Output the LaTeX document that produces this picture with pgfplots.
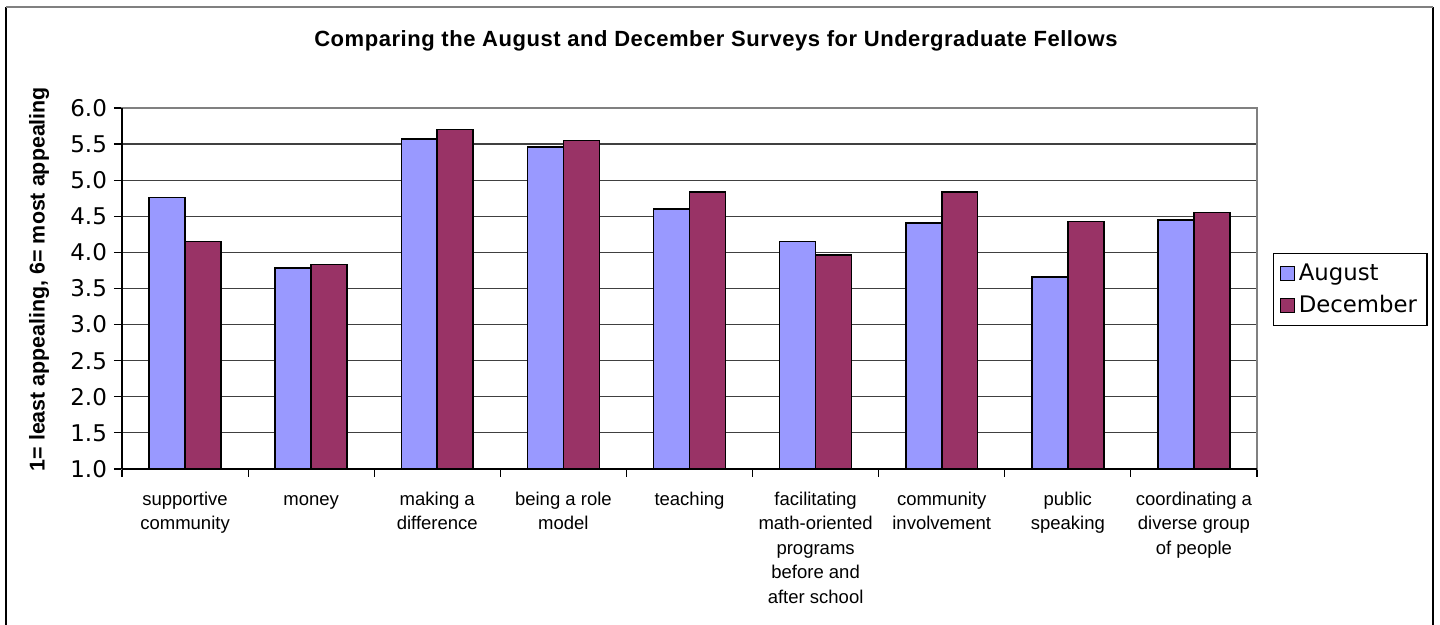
\documentclass[border=0pt]{standalone}
\usepackage{pgfplots}
\pgfplotsset{compat=1.18}
\usepackage{fontspec}
\setmainfont{Liberation Sans}
\newfontfamily\titlefont[LetterSpace=2.5]{Liberation Sans}
\newfontfamily\vfont{DejaVu Sans}
\definecolor{aug}{HTML}{9999FF}
\definecolor{dec}{HTML}{993366}
\begin{document}
\begin{tikzpicture}[x=0.5pt,y=0.5pt]
\useasboundingbox (0,0) rectangle (1440,625);
\fill[white] (0,0) rectangle (1440,625);
\draw[line width=1pt, black] (6,-10) -- (6,618);
\draw[line width=1pt, black] (1433,-10) -- (1433,618);
\draw[line width=1pt, gray] (6,618) -- (1433,618);
\begin{axis}[
  at={(61pt,78pt)}, anchor=south west,
  scale only axis, width=567.5pt, height=180.5pt,
  ybar,
  xmin=-0.5, xmax=8.5, ymin=1, ymax=6,
  ytick={1,1.5,...,6},
  yticklabel style={font=\vfont\fontsize{11.5}{13}\selectfont, /pgf/number format/.cd, fixed, fixed zerofill, precision=1, assume math mode=true},
  xtick={0,...,8},
  xticklabels={supportive\\community, \vphantom{l}money, making a\\difference, being a role\\model, teaching, facilitating\\math-oriented\\programs\\before and\\after school, community\\involvement, public\\speaking, coordinating a\\diverse group\\of people},
  xticklabel style={font=\fontsize{9.25}{12.25}\selectfont, align=center, anchor=north, yshift=-4pt},
  major x tick style={draw=none},
  minor xtick={-0.5,0.5,...,8.5},
  minor x tick style={black, line width=0.6pt},
  tick align=outside,
  major tick length=4pt, minor tick length=4pt,
  y tick style={black, line width=0.6pt},
  xtick pos=bottom, ytick pos=left,
  ymajorgrids,
  grid style={black!75, line width=0.6pt},
  axis line style={gray, line width=0.6pt},
  ylabel={1= least appealing, 6= most appealing},
  ylabel style={at={(axis description cs:-0.0731,0.526)}, anchor=center, font=\bfseries\fontsize{10.7}{12}\selectfont},
  title={Comparing the August and December Surveys for Undergraduate Fellows},
  title style={at={(axis description cs:0.5233,1.169)}, anchor=base, yshift=-6pt, font=\titlefont\bfseries\fontsize{11}{13}\selectfont},
  legend style={at={(axis description cs:1.0141,0.598)}, anchor=north west, draw=black, line width=0.6pt, font=\vfont\fontsize{11.4}{14}\selectfont, cells={anchor=west}, row sep=2pt, inner xsep=3pt, inner ysep=3pt},
  legend image code/.code={\draw[#1, line width=0.6pt] (0pt,-3.5pt) rectangle (7pt,3.5pt);},
  after end axis/.code={
    \draw[black, line width=0.8pt] (rel axis cs:0,0) -- (rel axis cs:0,1);
    \draw[black, line width=0.8pt] (rel axis cs:0,0) -- (rel axis cs:1,0);
  },
]
\addplot[fill=aug, draw=black, line width=0.8pt, bar width=0.285, bar shift=-0.1425] coordinates {
(0,4.76) (1,3.78) (2,5.57) (3,5.46) (4,4.60) (5,4.15) (6,4.41) (7,3.66) (8,4.45)};
\addplot[fill=dec, draw=black, line width=0.8pt, bar width=0.285, bar shift=0.1425] coordinates {
(0,4.15) (1,3.83) (2,5.70) (3,5.55) (4,4.84) (5,3.96) (6,4.84) (7,4.43) (8,4.55)};
\legend{August, December}
\end{axis}
\end{tikzpicture}
\end{document}
